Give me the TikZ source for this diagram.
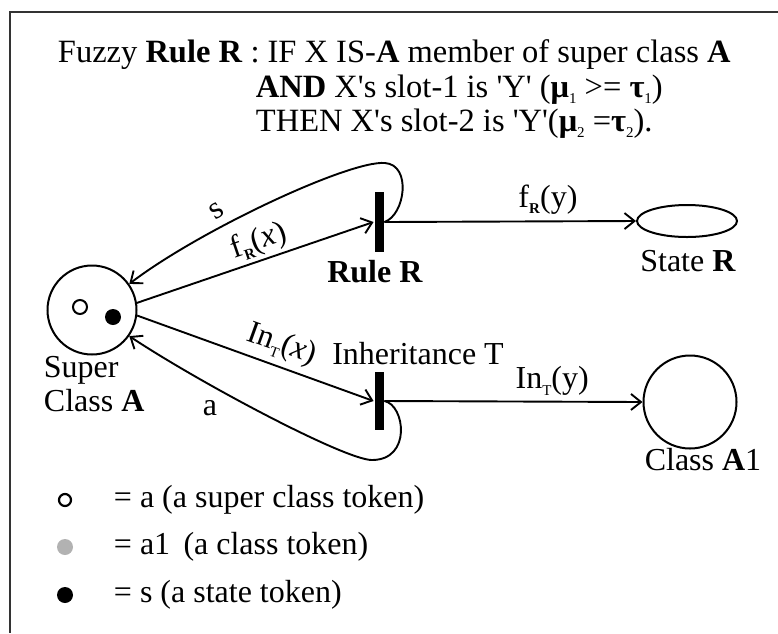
\documentclass[tikz,border=0pt]{standalone}
\usepackage{fontspec}
\setmainfont{Liberation Serif}
\usetikzlibrary{arrows.meta,shapes.geometric}
\newcommand\lsub[1]{\raisebox{-0.2em}{\fontsize{15}{15}\selectfont #1}}
\newcommand\sq{\textquotesingle}
\begin{document}
\begin{tikzpicture}[x=1pt,y=-1pt, line width=1.9pt,
  txt/.style={inner sep=0pt, font=\fontsize{32}{34}\selectfont},
  hdr/.style={inner sep=0pt, anchor=base west, font=\fontsize{32.5}{34}\selectfont},
  arr/.style={-{Straight Barb[length=10pt,width=16pt,line width=1.9pt]}},
  barnode/.style={fill=black, draw=none, minimum width=9pt, inner sep=0pt},
  place/.style={draw, circle, line width=2pt, inner sep=0pt},
  dot/.style={circle, inner sep=0pt, minimum size=16pt}]
\useasboundingbox (0,0) rectangle (778,633);
\draw[line width=1.4pt, black!80] (778,12) -- (10,12) -- (10,633);

% header
\node[hdr] (h1) at (57,62) {Fuzzy \textbf{Rule R} : IF X IS-\textbf{A} member of super class \textbf{A}};
\node[hdr] (h2) at (255,97) {\textbf{AND} X\sq s slot-1 is \sq Y\sq{} (\textbf{μ}\lsub{1} >= \textbf{τ}\lsub{1})};
\node[hdr] (h3) at (255,131) {THEN X\sq s slot-2 is \sq Y\sq(\textbf{μ}\lsub{2} =\textbf{τ}\lsub{2}).};

% places and transitions
\node[place, minimum size=89pt] (SA) at (92,310) {};
\node[draw, circle, line width=2pt, minimum size=14pt, inner sep=0pt] (tokA) at (80,307) {};
\node[dot, fill=black] (tokS) at (113,317) {};
\node[barnode, minimum height=60pt] (RB) at (379,222) {};
\node[barnode, minimum height=58pt] (IB) at (379,401) {};
\node[draw, ellipse, line width=2pt, minimum width=100pt, minimum height=32pt, inner sep=0pt] (SR) at (687,221) {};
\node[place, minimum size=93pt] (CA1) at (690,402) {};

% place labels
\node[txt, align=left, anchor=north west] (SAlab) at (43,355) {Super\\Class \textbf{A}};
\node[txt] (RBlab) at (375,272) {\textbf{Rule R}};
\node[txt] (IBlab) at (418,354) {Inheritance T};
\node[txt] (SRlab) at (688,261) {State \textbf{R}};
\node[txt] (CAlab) at (703,460) {Class \textbf{A}1};

% connectors
\draw[arr] (SA.9) -- node[txt, sloped, above=3pt, pos=0.54] {f\lsub{\textbf{R}}(\textit{x})} (RB.west);
\draw[arr] (SA.-7) -- node[txt, sloped, above=6pt, pos=0.58] {In\lsub{T}(\textit{x})} (IB.west);
\draw[arr] (RB.east) -- node[txt, above=6pt, pos=0.65] {f\lsub{\textbf{R}}(y)} (SR.west);
\draw[arr] (IB.east) -- node[txt, above=5pt, pos=0.65] {In\lsub{T}(y)} (CA1.west);
\draw[arr] (RB.east) .. controls (405,215) and (412,165) .. (385,163)
   .. controls (350,160) and (200,230) .. (SA.35);
\draw[arr] (IB.east) .. controls (405,405) and (412,460) .. (372,460)
   .. controls (345,460) and (200,383) .. (SA.-35);
\node[txt, rotate=33] (slab) at (217,211) {s};
\node[txt] (alab) at (210,408) {a};

% legend
\node[draw, circle, line width=2.2pt, minimum size=12pt, inner sep=0pt] (L1) at (65,500) {};
\node[dot, fill=black!30] (L2) at (65,547) {};
\node[dot, fill=black] (L3) at (65,595) {};
\node[txt, anchor=west] (T1) at (113,500) {= a (a super class token)};
\node[txt, anchor=west] (T2) at (113,547) {= a1\, (a class token)};
\node[txt, anchor=west] (T3) at (113,595) {= s (a state token)};
\end{tikzpicture}
\end{document}
